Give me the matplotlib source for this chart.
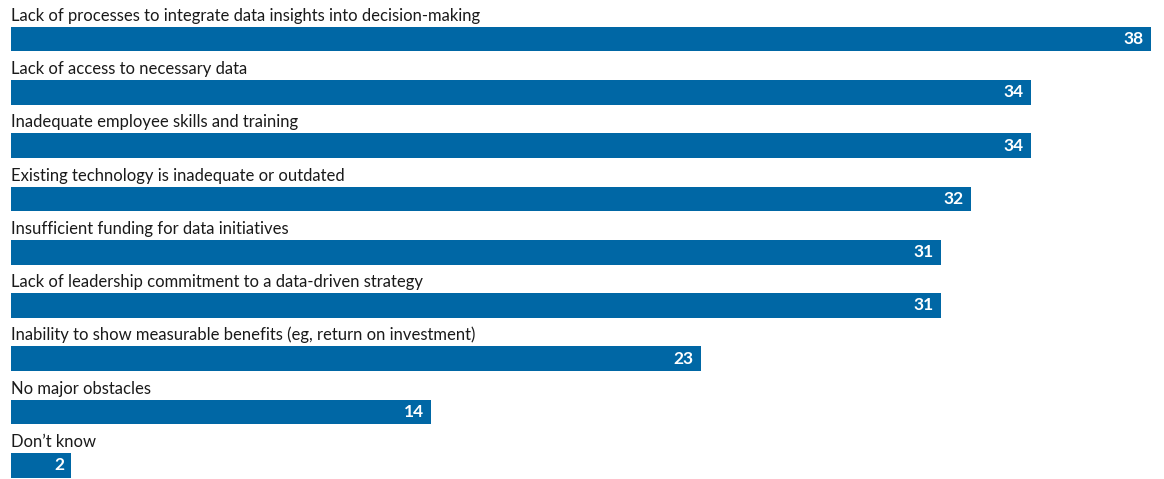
import matplotlib
matplotlib.use("Agg")
from matplotlib import pyplot as plt

labels = [
    "Lack of processes to integrate data insights into decision-making",
    "Lack of access to necessary data",
    "Inadequate employee skills and training",
    "Existing technology is inadequate or outdated",
    "Insufficient funding for data initiatives",
    "Lack of leadership commitment to a data-driven strategy",
    "Inability to show measurable benefits (eg, return on investment)",
    "No major obstacles",
    "Don\u2019t know",
]
values = [38, 34, 34, 32, 31, 31, 23, 14, 2]

BLUE = "#0067a5"
W, H = 1164, 479
plt.rcParams["font.family"] = ["Lato", "DejaVu Sans"]

fig = plt.figure(figsize=(W / 100, H / 100), dpi=100)
ax = fig.add_axes([0, 0, 1, 1])

pitch = 53.25
px = 30.0  # pixels per unit on x
ax.set_xlim(-11 / px, (W - 11) / px)
ax.set_ylim((H - 39.25) / pitch, -39.25 / pitch)

bar_h = 24.5 / pitch
ypos = list(range(len(values)))
ax.barh(ypos, values, height=bar_h, color=BLUE, left=0)

for i, (lab, v) in enumerate(zip(labels, values)):
    ax.text(0, i - bar_h / 2 - 6 / pitch, lab, ha="left", va="baseline",
            fontsize=12, color="#1a1a1a")
    ax.text(v - 7 / px, i, str(v), ha="right", va="center",
            fontsize=12.5, color="white", fontweight="bold")

ax.axis("off")
fig.savefig("out.png", dpi=100)
